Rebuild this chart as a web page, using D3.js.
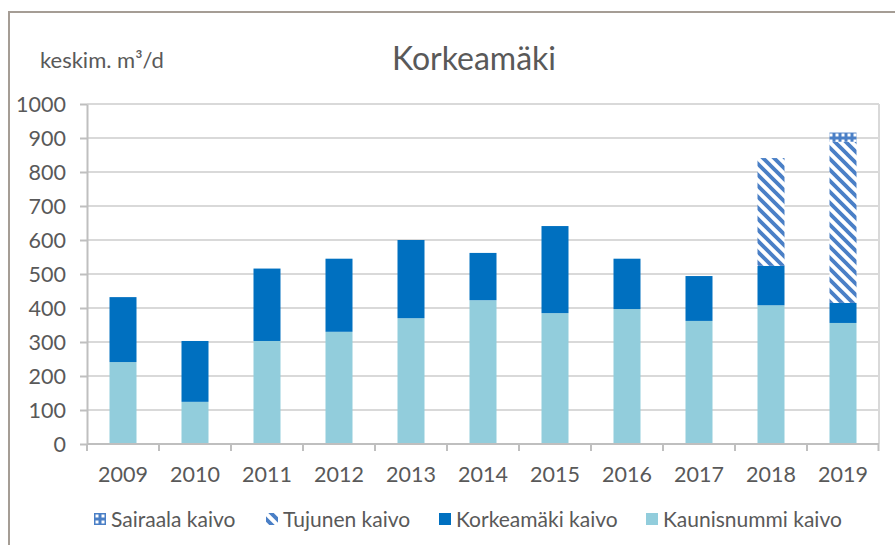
<!DOCTYPE html>
<html>
<head>
<meta charset="utf-8">
<script src="https://cdn.jsdelivr.net/npm/d3@7"></script>
<style>
  body { margin: 0; background: #fff; }
  svg text { font-family: Lato, "Open Sans", sans-serif; fill: #595959; }
</style>
</head>
<body>
<div id="root"></div>
<script>
// data
var years = ["2009", "2010", "2011", "2012", "2013", "2014", "2015", "2016", "2017", "2018", "2019"];
var kaunisnummi = [241, 124, 303, 330, 370, 423, 385, 397, 362, 408, 356];
var korkeamaki = [191, 179, 213, 215, 230, 139, 256, 148, 132, 116, 59];
var tujunen = [0, 0, 0, 0, 0, 0, 0, 0, 0, 317, 474];
var sairaala = [0, 0, 0, 0, 0, 0, 0, 0, 0, 0, 27];
var yTicks = [0, 100, 200, 300, 400, 500, 600, 700, 800, 900, 1000];

window.onload = function () {
    var W = 895, H = 545;
    var svg = d3.select("#root").append("svg")
        .attr("width", W).attr("height", H);

    var defs = svg.append("defs");
    // wide downward diagonal
    var t = 11;
    var p1 = defs.append("pattern").attr("id", "diag")
        .attr("patternUnits", "userSpaceOnUse")
        .attr("width", t).attr("height", t);
    p1.append("rect").attr("width", t).attr("height", t).attr("fill", "#fff");
    p1.append("path").attr("d", "M-3,-3 L" + (t + 3) + "," + (t + 3) + " M-3," + (t - 3) + " L3," + (t + 3) + " M" + (t - 3) + ",-3 L" + (t + 3) + ",3")
        .attr("stroke", "#4a7fc6").attr("stroke-width", 3.8);
    // small grid / checker
    var p2 = defs.append("pattern").attr("id", "grid")
        .attr("patternUnits", "userSpaceOnUse")
        .attr("width", 6).attr("height", 6);
    p2.append("rect").attr("width", 6).attr("height", 6).attr("fill", "#4a7fc6");
    p2.append("rect").attr("x", 1.5).attr("y", 1.5).attr("width", 3).attr("height", 3).attr("fill", "#fff");

    // outer frame
    svg.append("path").attr("d", "M9,545 L9,12 L895,12")
        .attr("fill", "none").attr("stroke", "#a59d95").attr("stroke-width", 2);

    var left = 87, right = 879, top = 104, bottom = 444;
    var x = d3.scaleBand().domain(years).range([left, right]).paddingInner(0).paddingOuter(0);
    var y = d3.scaleLinear().domain([0, 1000]).range([bottom, top]);

    // gridlines
    svg.append("g").selectAll("line").data(yTicks.slice(1)).enter().append("line")
        .attr("x1", left).attr("x2", right)
        .attr("y1", function (d) { return y(d); }).attr("y2", function (d) { return y(d); })
        .attr("stroke", "#d9d9d9").attr("stroke-width", 2);
    svg.append("line").attr("x1", right).attr("x2", right).attr("y1", top).attr("y2", bottom)
        .attr("stroke", "#d9d9d9").attr("stroke-width", 2);

    var series = [
        { name: "Kaunisnummi kaivo", values: kaunisnummi, fill: "#92cddc" },
        { name: "Korkeamäki kaivo", values: korkeamaki, fill: "#0070c0" },
        { name: "Tujunen kaivo", values: tujunen, fill: "url(#diag)" },
        { name: "Sairaala kaivo", values: sairaala, fill: "url(#grid)" }
    ];
    var rows = years.map(function (yr, i) {
        var r = { year: yr };
        series.forEach(function (s) { r[s.name] = s.values[i]; });
        return r;
    });
    var stack = d3.stack().keys(series.map(function (s) { return s.name; }))(rows);

    var bw = 27;
    svg.append("g").selectAll("g").data(stack).enter().append("g")
        .attr("fill", function (d, i) { return series[i].fill; })
        .selectAll("rect").data(function (d) { return d; }).enter().append("rect")
        .attr("x", function (d) { return x(d.data.year) + x.bandwidth() / 2 - bw / 2; })
        .attr("width", bw)
        .attr("y", function (d) { return y(d[1]); })
        .attr("height", function (d) { return y(d[0]) - y(d[1]); });

    // axes
    var yAxis = svg.append("g").attr("transform", "translate(" + left + ",0)")
        .call(d3.axisLeft(y).tickValues(yTicks).tickFormat(d3.format("d")).tickSize(7).tickSizeOuter(0));
    var xAxis = svg.append("g").attr("transform", "translate(0," + bottom + ")")
        .call(d3.axisBottom(x).tickSize(0).tickSizeOuter(0));
    xAxis.selectAll(".tick").append("line")
        .attr("x1", -x.bandwidth() / 2).attr("x2", -x.bandwidth() / 2)
        .attr("y1", 0).attr("y2", 7);
    xAxis.append("line").attr("x1", right - 0.5).attr("x2", right - 0.5).attr("y1", 0).attr("y2", 7);
    [yAxis, xAxis].forEach(function (a) {
        a.selectAll("path.domain").attr("stroke", "#bfbfbf").attr("stroke-width", 2);
        a.selectAll("line").attr("stroke", "#bfbfbf").attr("stroke-width", 2);
        a.selectAll("text").attr("font-size", 21.5).style("font-family", "Lato, sans-serif").attr("fill", "#595959");
    });
    yAxis.selectAll("text").attr("x", -21).attr("dy", "0.36em");
    xAxis.selectAll("text").attr("y", 38).attr("dy", 0);
    xAxis.select("path.domain").remove();
    xAxis.append("line").attr("x1", left).attr("x2", right).attr("stroke", "#bfbfbf").attr("stroke-width", 2);

    // titles
    svg.append("text").attr("x", 474).attr("y", 70).attr("text-anchor", "middle")
        .attr("font-size", 32).text("Korkeamäki");
    svg.append("text").attr("x", 40).attr("y", 68)
        .attr("font-size", 22).text("keskim. m³/d");

    // legend
    var legend = [
        { name: "Sairaala kaivo", fill: "url(#grid)", x: 94 },
        { name: "Tujunen kaivo", fill: "url(#diag)", x: 266 },
        { name: "Korkeamäki kaivo", fill: "#0070c0", x: 439 },
        { name: "Kaunisnummi kaivo", fill: "#92cddc", x: 646 }
    ];
    var lg = svg.append("g").selectAll("g").data(legend).enter().append("g")
        .attr("transform", function (d) { return "translate(" + d.x + ",519)"; });
    lg.append("rect").attr("x", 0).attr("y", -6).attr("width", 12).attr("height", 12)
        .attr("fill", function (d) { return d.fill; });
    lg.append("text").attr("x", 17).attr("y", 0).attr("dy", "0.36em")
        .attr("font-size", 21).text(function (d) { return d.name; });
};
</script>
</body>
</html>
